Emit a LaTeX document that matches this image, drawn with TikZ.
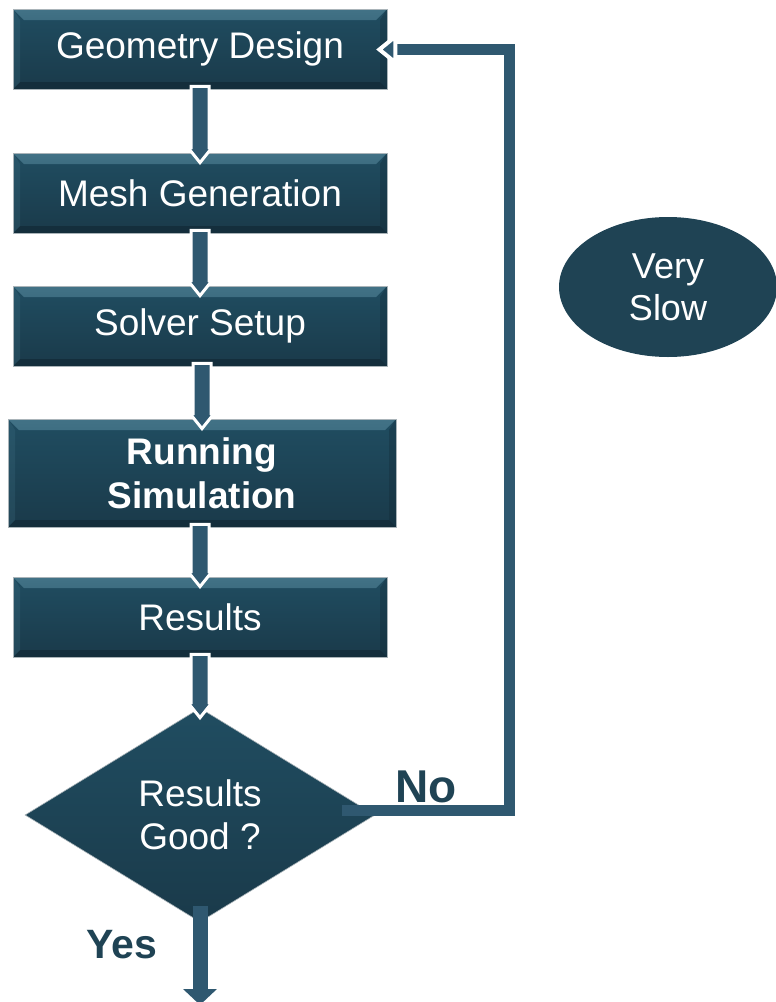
\documentclass[tikz,border=0pt]{standalone}
\usepackage{fontspec}
\setmainfont{Liberation Sans}
\usetikzlibrary{shapes.geometric,arrows.meta,calc}
\definecolor{arrowcol}{RGB}{47,88,112}
\definecolor{boxtop}{RGB}{32,77,97}
\definecolor{boxbot}{RGB}{26,58,74}
\definecolor{bevlight}{RGB}{66,114,134}
\definecolor{bevdark}{RGB}{16,38,50}
\definecolor{darkteal}{RGB}{31,67,84}
\definecolor{edgegray}{RGB}{170,180,185}
\newcommand{\vconn}[2]{%
  \path let \p1=(#1.south), \p2=(#2.north) in
   [fill=arrowcol, draw=white, line width=3pt, line join=miter]
   (\x2-9pt,\y1+3pt) -- (\x2-9pt,\y2+5pt) -- (\x2-12pt,\y2+5pt) -- (\x2,\y2-10pt)
   -- (\x2+12pt,\y2+5pt) -- (\x2+9pt,\y2+5pt) -- (\x2+9pt,\y1+3pt) -- cycle;}
\begin{document}
\begin{tikzpicture}[x=1pt,y=-1pt,
  stepbox/.style={rectangle, minimum width=374pt, minimum height=80pt, inner sep=0pt,
    top color=boxtop, bottom color=boxbot, draw=edgegray, line width=0.8pt,
    text=white, font=\fontsize{37}{44}\selectfont, align=center,
    path picture={
      \shade[top color=bevlight, bottom color=boxtop]
        (path picture bounding box.north west) -- (path picture bounding box.north east)
        -- ([shift={(-11pt,-11pt)}]path picture bounding box.north east)
        -- ([shift={(11pt,-11pt)}]path picture bounding box.north west) -- cycle;
      \fill[bevdark, opacity=0.6]
        (path picture bounding box.south west) -- (path picture bounding box.south east)
        -- ([shift={(-7pt,7pt)}]path picture bounding box.south east)
        -- ([shift={(7pt,7pt)}]path picture bounding box.south west) -- cycle;
      \fill[bevdark, opacity=0.3]
        (path picture bounding box.north east) -- (path picture bounding box.south east)
        -- ([shift={(-7pt,7pt)}]path picture bounding box.south east)
        -- ([shift={(-7pt,-11pt)}]path picture bounding box.north east) -- cycle;
      \fill[bevlight, opacity=0.25]
        (path picture bounding box.north west) -- (path picture bounding box.south west)
        -- ([shift={(7pt,7pt)}]path picture bounding box.south west)
        -- ([shift={(7pt,-11pt)}]path picture bounding box.north west) -- cycle;
    }},
  decision/.style={diamond, minimum width=350pt, minimum height=214pt, inner sep=0pt,
    top color=boxtop, bottom color=boxbot, draw=edgegray, line width=0.6pt,
    text=white, font=\fontsize{37}{43}\selectfont, align=center},
  oval/.style={ellipse, minimum width=218pt, minimum height=140pt, inner sep=0pt,
    fill=darkteal, text=white, font=\fontsize{36}{42}\selectfont, align=center},
  lbl/.style={text=darkteal, font=\bfseries\fontsize{44}{50}\selectfont, inner sep=0pt},
  fbline/.style={draw=arrowcol, line width=11pt, line join=miter},
  fbhead/.style={fill=arrowcol, draw=white, line width=4pt, line join=miter},
  yesline/.style={draw=arrowcol, line width=15pt, -{Triangle[length=16pt,width=33pt]}}
]
\useasboundingbox (0,0) rectangle (776,1002);

\node[stepbox] (g) at (200,49) {Geometry Design};
\node[stepbox] (m) at (200,193) {Mesh Generation};
\node[stepbox] (s) at (200,326) {Solver Setup};
\node[stepbox, minimum width=388pt, minimum height=108pt, font=\bfseries\fontsize{37}{44}\selectfont] (rs) at (202,473) {Running\\Simulation};
\node[stepbox] (r) at (200,617) {Results};
\node[decision] (d) at (200,815) {Results\\Good ?};
\node[oval] (vs) at (668,287) {Very\\Slow};

\vconn{g}{m}
\vconn{m}{s}
\vconn{s}{rs}
\vconn{rs}{r}
\vconn{r}{d}

\coordinate (fbtop) at (509,49.5);
\coordinate (fbtip) at ($(g.east)+(-8,0.5)$);
\draw[fbline] ($(d.east)+(-33,-5)$) -| (fbtop) -- ($(fbtip)+(16,0)$);
\path[fbhead] ($(fbtip)+(16,-13)$) -- (fbtip) -- ($(fbtip)+(16,13)$) -- cycle;

\coordinate (yesend) at (200,1005);
\draw[yesline] ($(d.south)+(0,-16)$) -- (yesend);

\node[lbl, font=\bfseries\fontsize{46}{50}\selectfont] (no) at (426,787) {No};
\node[lbl, font=\bfseries\fontsize{41}{48}\selectfont] (yes) at (122,945) {Yes};
\end{tikzpicture}
\end{document}
